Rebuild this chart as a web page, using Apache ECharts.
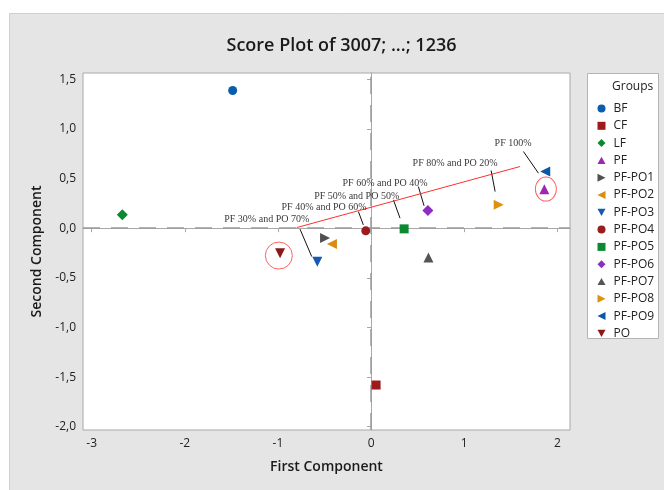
<!DOCTYPE html>
<html>
<head>
<meta charset="utf-8">
<script src="https://cdn.jsdelivr.net/npm/echarts@6/dist/echarts.min.js"></script>
<style>html,body{margin:0;padding:0;background:#fff;}#c{width:664px;height:490px;}</style>
</head>
<body>
<div id="c"></div>
<script>
// ---- data ----
const groups = ['BF','CF','LF','PF','PF-PO1','PF-PO2','PF-PO3','PF-PO4','PF-PO5','PF-PO6','PF-PO7','PF-PO8','PF-PO9','PO'];
const firstComponent  = [-1.486, 0.054, -2.671, 1.86, -0.494, -0.42, -0.577, -0.057, 0.355, 0.61, 0.616, 1.37, 1.87, -0.977];
const secondComponent = [1.387, -1.58, 0.134, 0.393, -0.10, -0.16, -0.337, -0.027, -0.007, 0.178, -0.296, 0.235, 0.57, -0.252];
const xTicks = [-3, -2, -1, 0, 1, 2];
const yTicks = [-2, -1.5, -1, -0.5, 0, 0.5, 1, 1.5];

// annotation labels (data coordinates of label centres) and leader lines
const noteTexts = ['PF 100%', 'PF 80% and PO 20%', 'PF 60% and PO 40%', 'PF 50% and PO 50%', 'PF 40% and PO 60%', 'PF 30% and PO 70%'];
const noteX = [1.525, 0.902, 0.150, -0.154, -0.505, -1.120];
const noteY = [0.85, 0.648, 0.454, 0.319, 0.212, 0.091];
const leaderStart = [[1.636, 0.772], [1.289, 0.581], [0.508, 0.419], [0.240, 0.285], [-0.136, 0.167], [-0.763, -0.010]];
const leaderEnd   = [[1.797, 0.554], [1.332, 0.369], [0.569, 0.225], [0.311, 0.101], [-0.083, 0.033], [-0.637, -0.286]];
const trendLine = [[-0.798, 0.006], [1.60, 0.621]];
const highlightX = [-0.990, 1.877];
const highlightY = [-0.276, 0.394];

// ---- styles ----
const triR = 'path://M0,0L10,5L0,10Z';
const triL = 'path://M10,0L0,5L10,10Z';
const triD = 'path://M0,0L10,0L5,9Z';
const triU = 'path://M5,0L10,9L0,9Z';
const symbols = ['circle','rect','diamond',triU,triR,triL,triD,'circle','rect','diamond',triU,triR,triL,triD];
const sizes = [9,9,11,10,10,10,10,9,9,11,10,10,10,10];
const colors = ['#0b5cad','#9e1b1b','#0a8a2e','#9c27b0','#505050','#d98c0f','#1559b5','#9b1c1c','#0b8a32','#8a2fc0','#555555','#dc910f','#0c58a8','#8b1818'];
const highlightSizes = [[27,27],[21,24]];

const fmtY = v => v.toFixed(1).replace('.', ',');

const series = groups.map((g, i) => ({
  name: g, type: 'scatter',
  data: [[firstComponent[i], secondComponent[i]]],
  symbol: symbols[i], symbolSize: sizes[i],
  itemStyle: { color: colors[i], opacity: 1 },
  z: 5
}));

series.push({
  name: 'refs', type: 'scatter', data: [], silent: true,
  markLine: {
    silent: true, symbol: 'none', label: { show: false },
    lineStyle: { color: '#9a9a9a', type: [17, 11], width: 1.5 },
    data: [{ xAxis: 0 }, { yAxis: 0 }], animation: false
  }
});
series.push({
  name: 'leaders', type: 'scatter', data: [], silent: true,
  markLine: {
    silent: true, symbol: 'none', label: { show: false },
    lineStyle: { color: '#111', type: 'solid', width: 1 },
    data: leaderStart.map((s, i) => [{ coord: s }, { coord: leaderEnd[i] }]),
    animation: false
  }
});
series.push({
  name: 'trend', type: 'scatter', data: [], silent: true,
  markLine: {
    silent: true, symbol: 'none', label: { show: false },
    lineStyle: { color: '#ff3030', type: 'solid', width: 1 },
    data: [[{ coord: trendLine[0] }, { coord: trendLine[1] }]],
    animation: false
  }
});
series.push({
  name: 'notes', type: 'scatter', silent: true, symbolSize: 0.1,
  itemStyle: { color: 'rgba(0,0,0,0)' },
  label: {
    show: true, position: 'inside', formatter: p => p.name,
    fontFamily: 'Liberation Serif', fontSize: 10, color: '#000'
  },
  data: noteTexts.map((t, i) => ({ name: t, value: [noteX[i], noteY[i]] })),
  z: 6
});
series.push({
  name: 'highlight', type: 'scatter', silent: true, symbol: 'circle',
  data: highlightX.map((x, i) => ({ value: [x, highlightY[i]], symbolSize: highlightSizes[i] })),
  itemStyle: { color: 'rgba(0,0,0,0)', borderColor: '#ff3b3b', borderWidth: 1 },
  z: 7
});

const chart = echarts.init(document.getElementById('c'), null, { renderer: 'canvas' });
chart.setOption({
  animation: false,
  backgroundColor: '#ffffff',
  textStyle: { fontFamily: 'Open Sans' },
  graphic: [
    { type: 'rect', z: -10, shape: { x: 9.5, y: 13.5, width: 660, height: 480 },
      style: { fill: '#e5e5e5', stroke: '#cfcfcf', lineWidth: 1 } },
    { type: 'rect', z: 1, shape: { x: 587.5, y: 73.5, width: 71, height: 265 },
      style: { fill: '#ffffff', stroke: '#b4b4b4', lineWidth: 1 } },
    { type: 'text', z: 5, x: 612, y: 87,
      style: { text: 'Groups', fontFamily: 'Open Sans', fontSize: 12, fill: '#222', textVerticalAlign: 'middle' } },
    { type: 'text', z: 5, x: 341.5, y: 46,
      style: { text: 'Score Plot of 3007; ...; 1236', fontFamily: 'Open Sans', fontSize: 18, fontWeight: 600,
               fill: '#1a1a1a', textAlign: 'center', textVerticalAlign: 'middle' } }
  ],
  grid: { left: 83, top: 73, right: 94, bottom: 60, show: true, backgroundColor: '#fff',
          borderColor: '#a8a8a8', borderWidth: 1, containLabel: false },
  legend: {
    data: groups, orient: 'vertical', left: 592.5, top: 96.5,
    itemWidth: 8, itemHeight: 8, itemGap: 3.3,
    textStyle: { fontFamily: 'Open Sans', fontSize: 12, color: '#222', lineHeight: 14, padding: [0, 0, 0, 3] },
    selectedMode: false
  },
  xAxis: {
    type: 'value', min: -3.093, max: 2.136,
    name: 'First Component', nameLocation: 'middle', nameGap: 30,
    nameTextStyle: { fontFamily: 'Open Sans', fontSize: 14, fontWeight: 600, color: '#1a1a1a' },
    axisLine: { show: true, lineStyle: { color: '#a8a8a8' } },
    axisTick: { show: true, length: 4, lineStyle: { color: '#a8a8a8' }, customValues: xTicks },
    axisLabel: { fontSize: 12, color: '#222', margin: 8, customValues: xTicks, formatter: v => String(v).replace('.', ',') },
    splitLine: { show: false }
  },
  yAxis: {
    type: 'value', min: -2.033, max: 1.563,
    name: 'Second Component', nameLocation: 'middle', nameGap: 38,
    nameTextStyle: { fontFamily: 'Open Sans', fontSize: 14, fontWeight: 600, color: '#1a1a1a' },
    axisLine: { show: true, lineStyle: { color: '#a8a8a8' } },
    axisTick: { show: true, length: 4, lineStyle: { color: '#a8a8a8' }, customValues: yTicks },
    axisLabel: { fontSize: 12, color: '#222', margin: 7, customValues: yTicks, formatter: fmtY },
    splitLine: { show: false }
  },
  series: series
});
</script>
</body>
</html>
